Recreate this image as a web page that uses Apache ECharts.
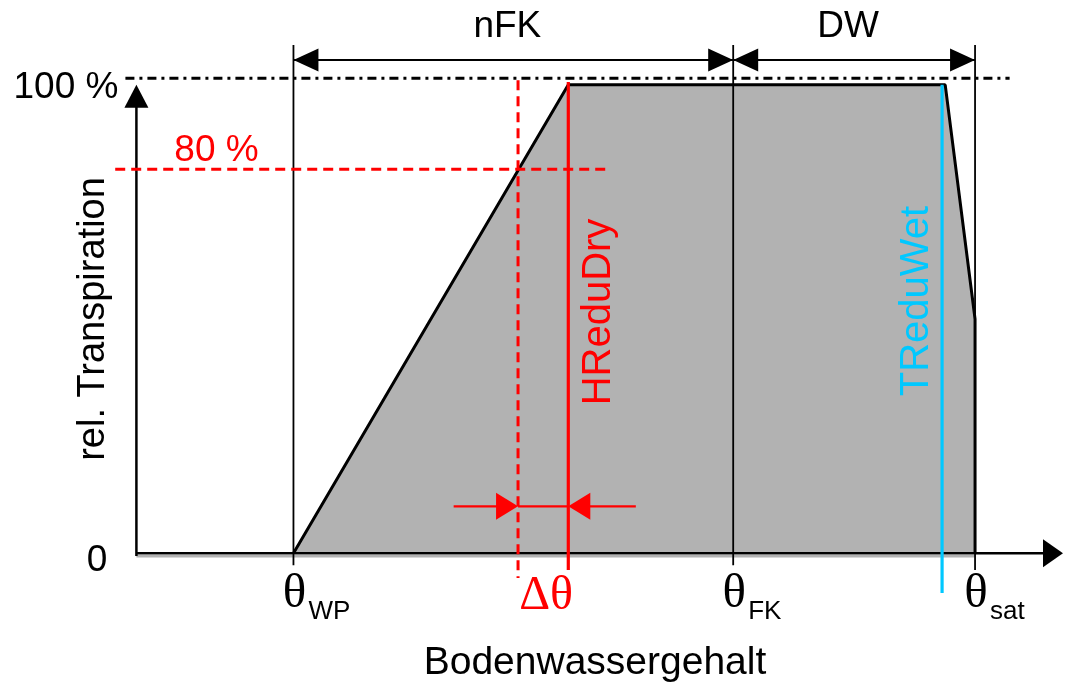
<!DOCTYPE html>
<html><head><meta charset="utf-8">
<script src="https://cdn.jsdelivr.net/npm/echarts@6/dist/echarts.min.js"></script>
<style>html,body{margin:0;padding:0;background:#fff}#chart{width:1066px;height:688px}</style>
</head><body><div id="chart"></div>
<script>
// ---------------- data (schematic values) ----------------
const thetaNames = ['WP', 'FK', 'sat'];          // subscripts of θ tick labels
const thetaValues = [10, 38, 53.4];              // θWP, θFK, θsat on the x scale
const curveX = [10, 27.5, 51.5, 53.4, 53.4];     // transpiration curve, x
const curveY = [0, 100, 100, 50, 0];             // transpiration curve, rel. %
const yTickLabels = ['0', '100 %'];
const yTickValues = [0, 100];
const reducedLevel = 82;                         // dashed red level
const reducedLabel = '80 %';
const hReduDryX = 27.5;                          // HReduDry position
const deltaStartX = 24.3;                        // start of Δθ (dashed red)
const tReduWetX = 51.3;                          // TReduWet position
const rangeNames = ['nFK', 'DW'];
const xAxisTitle = 'Bodenwassergehalt';
const yAxisTitle = 'rel. Transpiration';

// ---------------- layout / style ----------------
const L = {
  dimY: 105.3, refY: 101.4, vTop: 108.5, vBottom: -2.6, satBottom: -3.6,
  refX0: -0.7, refX1: 55.6, redHX0: -1.35, redHX1: 30.2,
  redDashTop: 101, redDashBottom: -5.3, redTop: 100.6, redBottom: -3.6,
  cyanTop: 100, cyanBottom: -8.5, deltaY: 10, deltaL: 20.2, deltaR: 31.8,
  xMax: 59, yTip: 100, thetaY: -9
};
const SANS = '"Liberation Sans", Arial, sans-serif';
const SERIF = '"Liberation Serif", "Times New Roman", serif';
const RED = '#ff0000', CYAN = '#00c8ff', GRAY = '#b2b2b2';

function renderOverlay(params, api) {
  const P = (x, y) => api.coord([x, y]);
  const ch = [];
  function seg(x1, y1, x2, y2, stroke, width, dash) {
    const a = P(x1, y1), b = P(x2, y2);
    ch.push({type: 'line', shape: {x1: a[0], y1: a[1], x2: b[0], y2: b[1]},
      style: {stroke: stroke, lineWidth: width, lineDash: dash || null, fill: null}});
  }
  function arrow(x, y, dir, len, half, color) {
    const t = P(x, y); const X = t[0], Y = t[1]; let pts;
    if (dir === 'r') pts = [[X, Y], [X - len, Y - half], [X - len, Y + half]];
    else if (dir === 'l') pts = [[X, Y], [X + len, Y - half], [X + len, Y + half]];
    else pts = [[X, Y], [X - half, Y + len], [X + half, Y + len]];
    ch.push({type: 'polygon', shape: {points: pts}, style: {fill: color, stroke: null}});
  }
  function txt(x, y, dx, dy, text, o) {
    const p = P(x, y);
    ch.push({type: 'text', x: p[0] + dx, y: p[1] + dy, rotation: o.rot || 0,
      style: {text: text, font: o.font, fill: o.color || '#000',
        align: o.align || 'center', verticalAlign: o.va || 'middle'}});
  }
  // gray shadow under the x axis
  seg(0, -0.64, thetaValues[2], -0.64, GRAY, 2.5);
  // axes
  seg(0, -0.6, 0, L.yTip - 4, '#000', 2.5);
  arrow(0, L.yTip, 'u', 23, 12, '#000');
  seg(0, 0, L.xMax - 0.8, 0, '#000', 2.5);
  arrow(L.xMax, 0, 'r', 20, 14, '#000');
  // vertical θ marks
  thetaValues.forEach((v, i) => seg(v, L.vTop, v, i === 2 ? L.satBottom : L.vBottom, '#000', 1.8));
  // dash-dot reference line at 100 %
  seg(L.refX0, L.refY, L.refX1, L.refY, '#000', 3, [9, 5, 3, 5]);
  // dimension lines nFK, DW
  for (let i = 0; i < 2; i++) {
    const a = thetaValues[i], b = thetaValues[i + 1];
    seg(a, L.dimY, b, L.dimY, '#000', 2.2);
    arrow(a, L.dimY, 'l', 25, 11.5, '#000');
    arrow(b, L.dimY, 'r', 25, 11.5, '#000');
    txt((a + b) / 2, L.dimY, -6, -33, rangeNames[i], {font: '37px ' + SANS});
  }
  // red dashed 80 % level and Δθ start
  seg(L.redHX0, reducedLevel, L.redHX1, reducedLevel, RED, 3, [10, 6]);
  seg(deltaStartX, L.redDashTop, deltaStartX, L.redDashBottom, RED, 3, [10, 6]);
  // HReduDry
  seg(hReduDryX, L.redTop, hReduDryX, L.redBottom, RED, 3.2);
  // TReduWet
  seg(tReduWetX, L.cyanTop, tReduWetX, L.cyanBottom, CYAN, 3.2);
  // Δθ arrows
  seg(L.deltaL, L.deltaY, deltaStartX - 0.5, L.deltaY, RED, 2.2);
  arrow(deltaStartX, L.deltaY, 'r', 22, 13.5, RED);
  seg(hReduDryX + 0.5, L.deltaY, L.deltaR, L.deltaY, RED, 2.2);
  arrow(hReduDryX, L.deltaY, 'l', 22, 13.5, RED);
  seg(deltaStartX, L.deltaY, hReduDryX, L.deltaY, RED, 2.2);
  // texts
  txt(0, yTickValues[1], -18, 3, yTickLabels[1], {font: '37px ' + SANS, align: 'right'});
  txt(0, yTickValues[0], -29, 8, yTickLabels[0], {font: '37px ' + SANS, align: 'right'});
  txt(5.1, reducedLevel, 0, -18, reducedLabel, {font: '37px ' + SANS, color: RED});
  txt(-2.76, 50, 0, 0, yAxisTitle, {font: '38px ' + SANS, rot: Math.PI / 2});
  txt(hReduDryX, 50, 31, -7, 'HReduDry', {font: '40px ' + SANS, color: RED, rot: Math.PI / 2});
  txt(tReduWetX, 50, -25, -18, 'TReduWet', {font: '40px ' + SANS, color: CYAN, rot: Math.PI / 2});
  thetaValues.forEach((v, i) => {
    txt(v, L.thetaY, 1, -1, 'θ', {font: '49px ' + SERIF});
    txt(v, L.thetaY, 15, 17, thetaNames[i], {font: '26px ' + SANS, align: 'left'});
  });
  txt((deltaStartX + hReduDryX) / 2, L.thetaY, 3, 1, 'Δθ', {font: '48px ' + SERIF, color: RED});
  txt(29.2, -23.5, 0, 0, xAxisTitle, {font: '39px ' + SANS});
  return {type: 'group', children: ch};
}

const chart = echarts.init(document.getElementById('chart'));
chart.setOption({
  animation: false,
  backgroundColor: '#fff',
  grid: {left: 105, right: 3, top: 38, bottom: 88, containLabel: false},
  xAxis: {type: 'value', min: -2, max: L.xMax, show: false},
  yAxis: {type: 'value', min: -10, max: 110, show: false},
  series: [
    {type: 'line', z: 2, symbol: 'none', silent: true,
      data: curveX.map((x, i) => [x, curveY[i]]),
      lineStyle: {color: '#000', width: 3},
      areaStyle: {color: GRAY, opacity: 1}},
    {type: 'custom', z: 3, clip: false, silent: true, data: [0], renderItem: renderOverlay}
  ]
});
</script></body></html>
